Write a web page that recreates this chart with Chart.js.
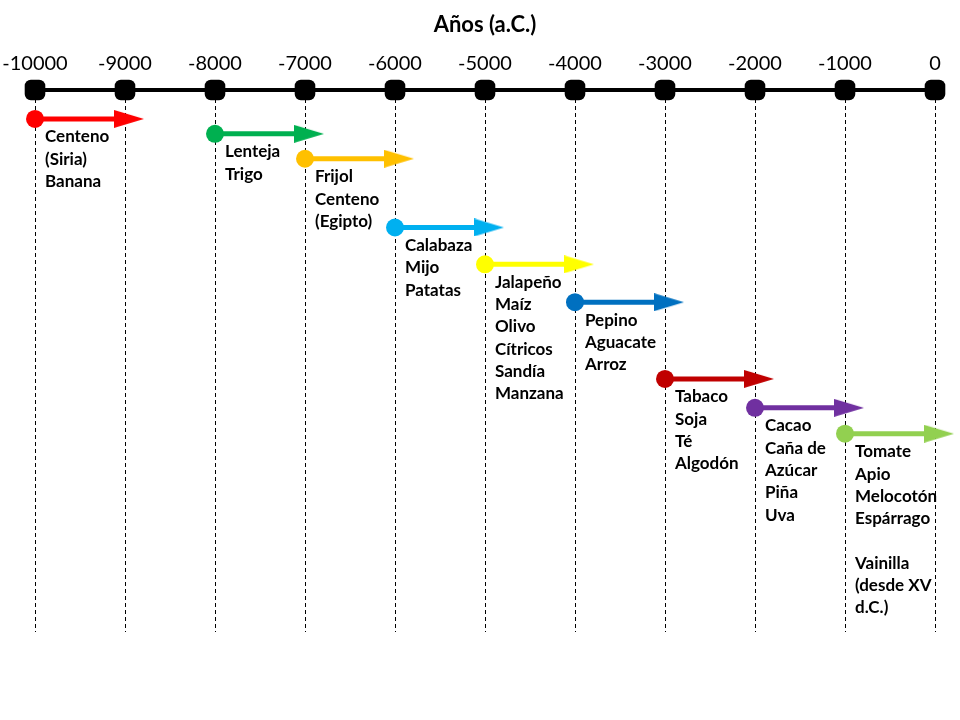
<!DOCTYPE html>
<html>
<head>
<meta charset="utf-8">
<script src="https://cdn.jsdelivr.net/npm/chart.js@4.4.1/dist/chart.umd.min.js"></script>
<style>
  html, body { margin: 0; padding: 0; background: #fff; }
</style>
</head>
<body>
<canvas id="timeline" width="960" height="720"></canvas>
<script>
// años de inicio de cada grupo de cultivos (a.C. en negativo)
const inicios = [-10000, -8000, -7000, -6000, -5000, -4000, -3000, -2000, -1000];
const duracion = 1000;
// fila vertical de cada flecha (desde el eje hacia abajo)
const filas = [29, 44, 69, 138, 175, 213, 290, 319, 345];
const colores = ['#FF0000', '#00B050', '#FFC000', '#00B0F0', '#FFFF00', '#0070C0', '#C00000', '#7030A0', '#92D050'];
const cultivos = [
    ['Centeno', '(Siria)', 'Banana'],
    ['Lenteja', 'Trigo'],
    ['Frijol', 'Centeno', '(Egipto)'],
    ['Calabaza', 'Mijo', 'Patatas'],
    ['Jalapeño', 'Maíz', 'Olivo', 'Cítricos', 'Sandía', 'Manzana'],
    ['Pepino', 'Aguacate', 'Arroz'],
    ['Tabaco', 'Soja', 'Té', 'Algodón'],
    ['Cacao', 'Caña de', 'Azúcar', 'Piña', 'Uva'],
    ['Tomate', 'Apio', 'Melocotón', 'Espárrago', '', 'Vainilla', '(desde XV', 'd.C.)']
];
const marcas = [-10000, -9000, -8000, -7000, -6000, -5000, -4000, -3000, -2000, -1000, 0];

const FUENTE = 'Lato, "Open Sans", sans-serif';

// punta de flecha alargada como imagen para pointStyle
function puntaFlecha(color) {
    const c = document.createElement('canvas');
    c.width = 38;
    c.height = 18;
    const g = c.getContext('2d');
    g.fillStyle = color;
    g.beginPath();
    g.moveTo(8, 0);
    g.lineTo(38, 9);
    g.lineTo(8, 18);
    g.closePath();
    g.fill();
    return c;
}

const datasets = inicios.map((ini, i) => ({
    label: cultivos[i][0],
    data: [{x: ini, y: filas[i]}, {x: ini + duracion, y: filas[i]}],
    borderColor: colores[i],
    backgroundColor: colores[i],
    borderWidth: 5,
    pointStyle: ['circle', puntaFlecha(colores[i])],
    pointRadius: 9,
    pointBorderWidth: 0,
    showLine: true,
    clip: false
}));

// cuadrados negros sobre el eje
datasets.push({
    label: 'eje',
    data: marcas.map(m => ({x: m, y: 0})),
    backgroundColor: '#000',
    borderColor: '#000',
    pointStyle: 'rectRounded',
    pointRadius: 12,
    pointBorderWidth: 0,
    showLine: false,
    clip: false
});

// textos bajo cada flecha
const etiquetas = {
    id: 'etiquetas',
    afterDatasetsDraw(chart) {
        const ctx = chart.ctx;
        ctx.save();
        ctx.fillStyle = '#000';
        ctx.font = 'bold 17px ' + FUENTE;
        ctx.textBaseline = 'middle';
        ctx.textAlign = 'left';
        cultivos.forEach((lineas, i) => {
            const p = chart.getDatasetMeta(i).data[0];
            lineas.forEach((t, k) => {
                ctx.fillText(t, p.x + 10, p.y + 18 + k * 22.3);
            });
        });
        ctx.restore();
    }
};

new Chart(document.getElementById('timeline'), {
    type: 'scatter',
    data: { datasets: datasets },
    options: {
        responsive: false,
        animation: false,
        events: [],
        layout: { padding: { left: 35, right: 25, top: 14, bottom: 88 } },
        plugins: {
            legend: { display: false },
            tooltip: { enabled: false }
        },
        scales: {
            x: {
                type: 'linear',
                position: 'top',
                min: -10000,
                max: 0,
                afterBuildTicks: (axis) => { axis.ticks = marcas.map(v => ({value: v})); },
                afterFit: (axis) => { axis.paddingLeft = 0; axis.paddingRight = 0; },
                ticks: {
                    color: '#000',
                    font: { family: FUENTE, size: 20 },
                    padding: 14,
                    maxRotation: 0,
                    callback: (v) => String(v)
                },
                grid: {
                    color: '#000',
                    lineWidth: 1,
                    drawTicks: false
                },
                border: {
                    display: true,
                    color: '#000',
                    width: 4,
                    dash: [4, 3]
                },
                title: {
                    display: true,
                    text: 'Años (a.C.)',
                    color: '#000',
                    font: { family: FUENTE, size: 22, weight: 'bold', lineHeight: 1.0 },
                    padding: { top: 0, bottom: 2 }
                }
            },
            y: {
                display: false,
                min: 0,
                max: 544,
                reverse: true
            }
        }
    },
    plugins: [etiquetas]
});
</script>
</body>
</html>
